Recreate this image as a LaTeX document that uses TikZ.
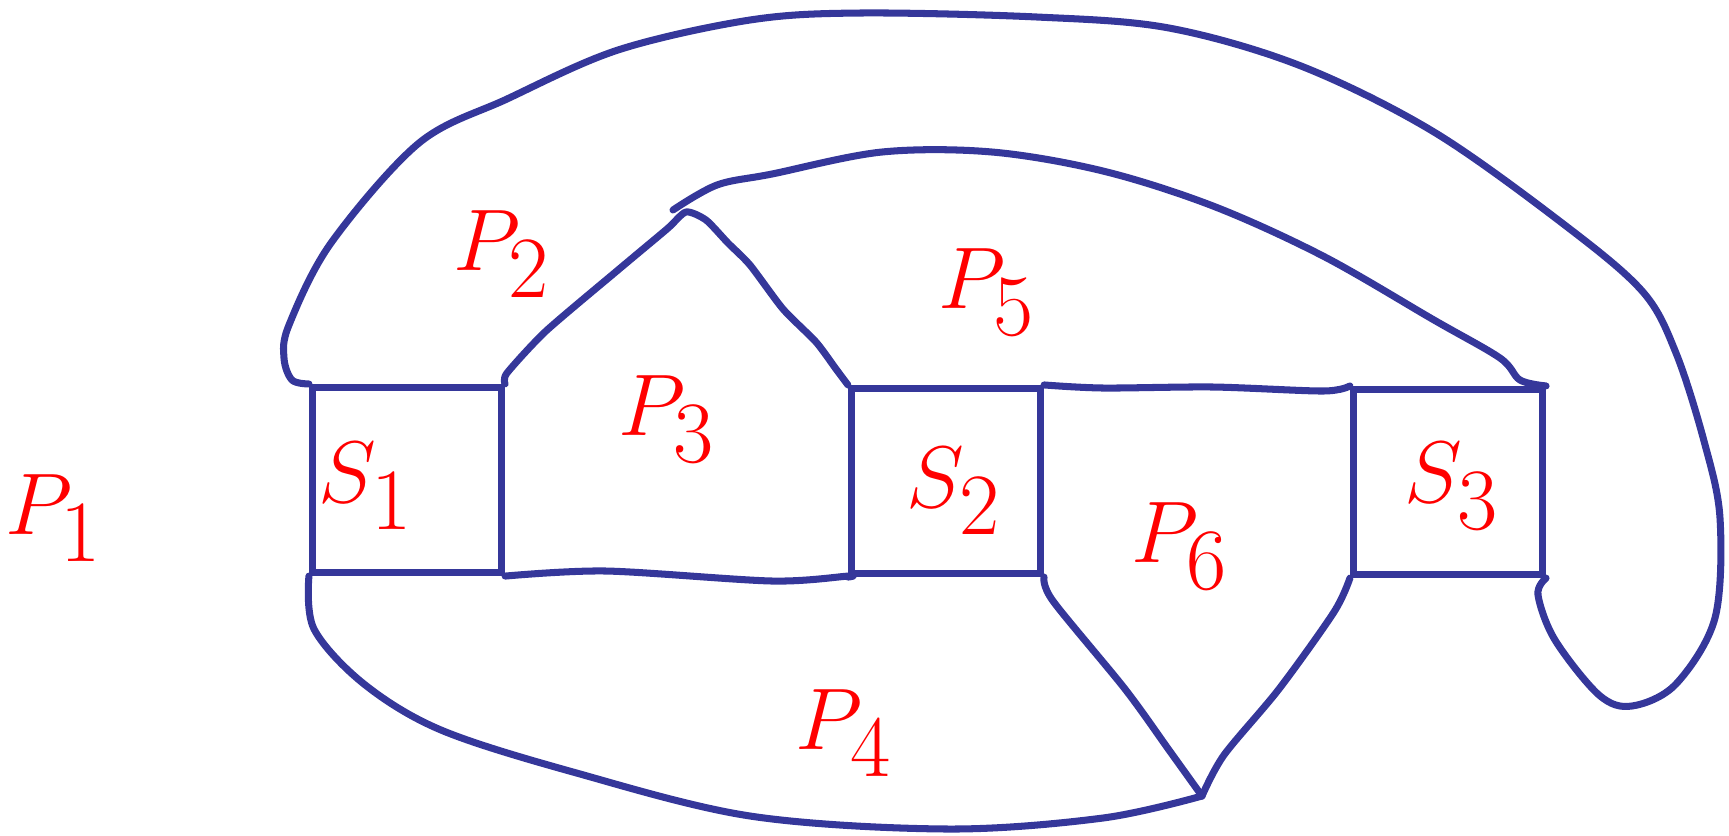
\documentclass[tikz,border=0pt]{standalone}
\usepackage{xcolor}
\definecolor{inkBlue}{HTML}{35379A}
\definecolor{inkRed}{HTML}{FF0000}
\usepackage{tikz}

\begin{document}
\begin{tikzpicture}[
  x=0.01cm, y=-0.01cm,
  font=\fontsize{36}{38}\selectfont,
  sq/.style={draw=inkBlue, line width=2pt, minimum width=1.89cm,
             minimum height=1.85cm, inner sep=0pt},
  edge/.style={inkBlue, line width=2pt, line cap=round, line join=round},
  lbl/.style={text=inkRed, inner sep=0pt}
]
\useasboundingbox (0,0) rectangle (1729,835);

% squares
\node[sq] (s1) at (407,480) {};
\node[sq] (s2) at (946,481) {};
\node[sq] (s3) at (1448,482) {};
\coordinate (j) at (1202,796);

% labels
\node[lbl] (l1) at (366,486) {$S_1$};
\node[lbl] (l2) at (954,491) {$S_2$};
\node[lbl] (l3) at (1452,486) {$S_3$};
\node[lbl] (p1) at (54,518) {$P_1$};
\node[lbl] (p2) at (502,254) {$P_2$};
\node[lbl] (p3) at (667,419) {$P_3$};
\node[lbl] (p4) at (844,733) {$P_4$};
\node[lbl] (p5) at (987,292) {$P_5$};
\node[lbl] (p6) at (1180,546) {$P_6$};

% outer loop
\draw[edge] plot[smooth, tension=0.55] coordinates {(s1.north west) (292,380)
  (284,358) (289,325) (331,243) (419,143) (507,99) (618,50) (750,20) (860,13)
  (1037,17) (1169,28) (1301,66) (1434,132) (1566,226) (1643,292) (1676,353)
  (1704,441) (1720,518) (1715,618) (1676,684) (1632,706) (1599,695) (1555,640)
  (1538,595) (s3.south east)};
% inner arc
\draw[edge] plot[smooth, tension=0.55] coordinates {(673,210) (717,185) (772,174)
  (882,152) (992,152) (1103,171) (1213,206) (1323,256) (1434,320) (1500,358)
  (1520,380) (s3.north east)};
% roof
\draw[edge] plot[smooth, tension=0.4] coordinates {(s1.north east) (507,373)
  (546,331) (618,270) (667,229) (686,212) (706,220) (728,243) (750,265)
  (783,309) (816,342) (836,369) (s2.north west)};
\draw[edge] plot[smooth, tension=0.5] coordinates {(s2.north east) (1103,388)
  (1213,387) (1323,391) (s3.north west)};
\draw[edge] plot[smooth, tension=0.5] coordinates {(s1.south east) (606,571)
  (772,581) (849,576) (s2.south west)};
% bottom
\draw[edge] plot[smooth, tension=0.55] coordinates {(s1.south west) (314,629)
  (364,684) (441,730) (573,772) (750,816) (948,829) (1103,818) (j)};
\draw[edge] plot[smooth, tension=0.5] coordinates {(s2.south east) (1053,601)
  (1125,689) (1169,750) (j)};
\draw[edge] plot[smooth, tension=0.5] coordinates {(s3.south west) (1334,612)
  (1279,689) (1224,755) (j)};
\end{tikzpicture}
\end{document}
